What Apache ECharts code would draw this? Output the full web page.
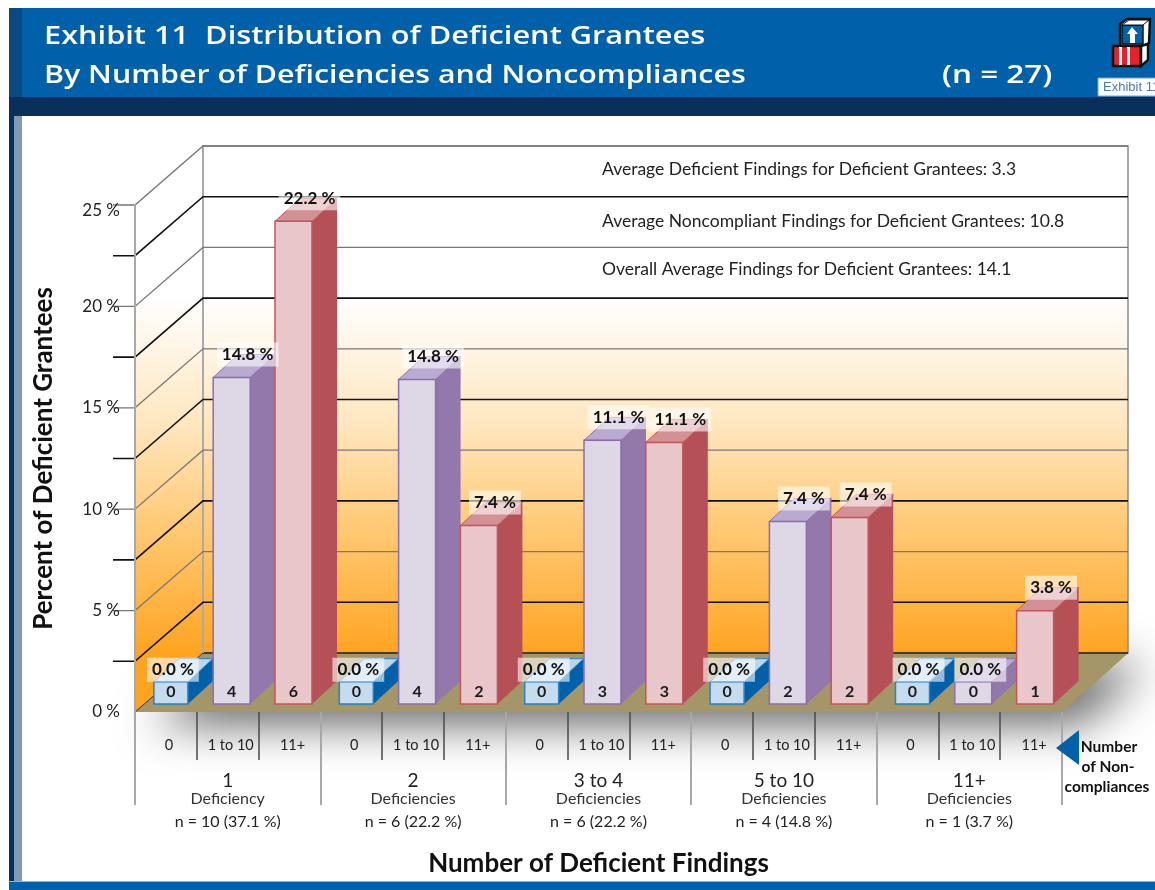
<!DOCTYPE html>
<html><head><meta charset="utf-8">
<style>html,body{margin:0;padding:0;background:#fff}#c{width:1155px;height:890px}</style>
<script src="https://cdn.jsdelivr.net/npm/echarts@6/dist/echarts.min.js"></script>
</head><body><div id="c"></div>
<script>
const noncomplianceTicks = ['0','1 to 10','11+','0','1 to 10','11+','0','1 to 10','11+','0','1 to 10','11+','0','1 to 10','11+'];
const findingGroups = ['1','2','3 to 4','5 to 10','11+'];
const groupWords = ['Deficiency','Deficiencies','Deficiencies','Deficiencies','Deficiencies'];
const groupCounts = ['n = 10 (37.1 %)','n = 6 (22.2 %)','n = 6 (22.2 %)','n = 4 (14.8 %)','n = 1 (3.7 %)'];
// bar heights as drawn, read against the axis
const barHeights = [1.1,16.1,23.8, 1.1,16,8.8, 1.1,13,12.9, 1.1,9,9.2, 1.1,1.1,4.6];
const percentLabels = ['0.0','14.8','22.2','0.0','14.8','7.4','0.0','11.1','11.1','0.0','7.4','7.4','0.0','0.0','3.8'];
const grantees = [0,4,6,0,4,2,0,3,3,0,2,2,0,0,1];
const gridLevels = [2.5,5,7.5,10,12.5,15,17.5,20,22.5,25];
const boldLevels = [2.5,7.5,12.5,17.5,22.5];
const wallNotes = ['Average Deficient Findings for Deficient Grantees: 3.3','Average Noncompliant Findings for Deficient Grantees: 10.8','Overall Average Findings for Deficient Grantees: 14.1'];
const titleLines = ['Exhibit 11  Distribution of Deficient Grantees','By Number of Deficiencies and Noncompliances'];

const DX = 68, DY = -59, BDX = 25, BDY = -23, LIFT = 8, WALL_TRIM = 2;
const F = 'Lato, "Open Sans", sans-serif';
const TF = '"Open Sans", Lato, sans-serif';
const palette = [
 {front:'#C6DCEE',stroke:'#2A80C4',side:'#0060AA',top:'#BBD7EE'},
 {front:'#DDD7E6',stroke:'#8A6DB0',side:'#9379AB',top:'#B9AACF'},
 {front:'#E9C6CA',stroke:'#C2555B',side:'#B55156',top:'#D39196'}];

const wallFill = new echarts.graphic.LinearGradient(0,297,0,653,[
 {offset:0,color:'#FFFFFF'},{offset:.35,color:'#FFE7C0'},{offset:.7,color:'#FFC468'},{offset:1,color:'#FFA421'}],true);

function poly(points,fill,stroke,lw,extra){
 return {type:'polygon',shape:{points},style:Object.assign({fill,stroke:stroke||null,lineWidth:lw||0},extra||{})};
}
function renderStage(p,api){
 const band = api.size([1,0])[0];
 const o = api.coord([0,0]), t = api.coord([0,25]);
 const l = o[0]-band/2, r = l+band*15, y0=o[1], y1=t[1], wr=r+DX-WALL_TRIM;
 return {type:'group',children:[
  poly([[l,y0],[l+DX,y0+DY],[wr,y0+DY],[r,y0]],'#A59668',null,0,{shadowColor:'rgba(0,0,0,0.62)',shadowBlur:46,shadowOffsetX:18,shadowOffsetY:12}),
  poly([[l,y0],[l+DX,y0+DY],[l+DX,y1+DY],[l,y1]],wallFill),
  poly([[l+DX,y0+DY],[wr,y0+DY],[wr,y1+DY],[l+DX,y1+DY]],wallFill,'#8a8a8a',1.5),
  poly([[l,y0],[l+DX,y0+DY],[wr,y0+DY],[r,y0]],'#A59668'),
  {type:'line',shape:{x1:l+DX,y1:y0+DY,x2:wr,y2:y0+DY},style:{stroke:'#222',lineWidth:1.5}},
  {type:'line',shape:{x1:l+DX,y1:y0+DY,x2:l+DX,y2:y1+DY},style:{stroke:'#aaa',lineWidth:2}},
  {type:'line',shape:{x1:l,y1:y0,x2:l+DX,y2:y0+DY},style:{stroke:'#333',lineWidth:1}}
 ]};
}
function renderGrid(p,api){
 const band = api.size([1,0])[0], v = api.value(0);
 const c = api.coord([0,v]), l = c[0]-band/2, r = l+band*15, y=c[1];
 const bold = boldLevels.includes(v);
 const st = {stroke:bold?'#111':'#777',lineWidth:bold?1.6:1.3,fill:null};
 return {type:'polyline',shape:{points:[[l-22,y],[l,y],[l+DX,y+DY],[r+DX-WALL_TRIM,y+DY]]},style:st};
}
function barPos(i,v,api){
 const c = api.coord([i,v]), b = api.coord([i,0]);
 const w = (i%3===0)?34:37, cx = c[0]+4 + (i%3===0?1:0);
 return {x:cx-w/2,w,top:c[1]-LIFT,base:b[1]-LIFT,cx};
}
function renderBar(p,api){
 const i = api.value(0), v = api.value(1), k = palette[i%3], b = barPos(i,v,api);
 const x=b.x,w=b.w,t=b.top,g=b.base;
 return {type:'group',children:[
  poly([[x+w,g],[x+w+BDX,g+BDY],[x+w+BDX,t+BDY],[x+w,t]],k.side),
  poly([[x,t],[x+BDX,t+BDY],[x+w+BDX,t+BDY],[x+w,t]],k.top,k.stroke,1),
  {type:'rect',shape:{x,y:t,width:w,height:g-t},style:{fill:k.front,stroke:k.stroke,lineWidth:1.5}},
  {type:'text',style:{text:String(grantees[i]),x:x+w/2,y:g-12,align:'center',verticalAlign:'middle',fill:'#1a1a1a',font:'bold 16px '+F}}
 ]};
}
function renderLabel(p,api){
 const i = api.value(0), v = api.value(1), b = barPos(i,v,api);
 const zero = v<2;
 const shift = zero ? (i===13?7:(i===12?6:2)) : 16;
 return {type:'text',style:{text:percentLabels[i]+' %',x:b.cx+shift,y:b.top+(zero?-12:-23),align:'center',verticalAlign:'middle',fill:'#111',font:'bold 17px '+F,backgroundColor:'rgba(255,255,255,0.58)',padding:[4,5,3,5]}};
}

const barData = barHeights.map((v,i)=>[i,v]);
const chart = echarts.init(document.getElementById('c'),null,{renderer:'canvas'});
const S = (t,x,y,font,fill,align,sx)=>({type:'text',x,y,z:30,scaleX:sx||1,style:{text:t,font,fill:fill||'#111',align:align||'left',verticalAlign:'middle'}});
const R = (x,y,w,h,fill)=>({type:'rect',shape:{x,y,width:w,height:h},z:10,style:{fill}});
const P = (pts,fill,stroke,lw)=>({type:'polygon',shape:{points:pts},z:21,style:{fill,stroke:stroke||null,lineWidth:lw||0}});

chart.setOption({
 animation:false,
 backgroundColor:'#fff',
 grid:{left:135,right:93,top:205,bottom:178,containLabel:false},
 xAxis:[
  {type:'category',gridIndex:0,data:noncomplianceTicks,position:'bottom',z:5,
   axisLine:{show:false},axisTick:{show:true,alignWithLabel:false,length:48,lineStyle:{color:'#4a4a4a',width:1.5}},
   axisLabel:{interval:0,margin:26,color:'#222',fontFamily:F,fontSize:14.5,padding:[0,0,0,6]}},
  {type:'category',gridIndex:0,data:findingGroups.map((g,i)=>g+'|'+groupWords[i]+'|'+groupCounts[i]),position:'bottom',z:6,
   axisLine:{show:false},axisTick:{show:true,length:93,lineStyle:{color:'#a8a8a8',width:2}},
   axisLabel:{interval:0,margin:58,fontFamily:F,
    formatter:s=>{const a=s.split('|');return '{g|'+a[0]+'}\n{w|'+a[1]+'}\n{n|'+a[2]+'}';},
    rich:{g:{fontSize:19,fontFamily:F,color:'#222',lineHeight:21,align:'center'},
          w:{fontSize:16,fontFamily:F,color:'#333',lineHeight:15,align:'center'},
          n:{fontSize:16,fontFamily:F,color:'#222',lineHeight:32,align:'center'}}},
   name:'Number of Deficient Findings',nameLocation:'middle',nameGap:139,
   nameTextStyle:{fontFamily:F,fontSize:26,fontWeight:'bold',color:'#111'}}
 ],
 yAxis:{type:'value',min:0,max:25,interval:5,z:5,
  axisLine:{show:true,lineStyle:{color:'#a8a8a8',width:2}},axisTick:{show:false},splitLine:{show:false},
  axisLabel:{margin:15,color:'#222',fontFamily:F,fontSize:17,
    formatter:v=>v===25?'{t|25 %}':v+' %',rich:{t:{fontSize:17,fontFamily:F,color:'#222',padding:[12,0,0,0]}}},
  name:'Percent of Deficient Grantees',nameLocation:'middle',nameGap:78,nameRotate:90,
  nameTextStyle:{fontFamily:F,fontSize:26,fontWeight:'bold',color:'#111'}},
 series:[
  {type:'custom',name:'stage',z:1,silent:true,xAxisIndex:0,renderItem:renderStage,data:[[0]],encode:{x:[],y:[]}},
  {type:'custom',name:'levels',z:2,silent:true,xAxisIndex:0,renderItem:renderGrid,data:gridLevels.map(v=>[v]),encode:{x:[],y:[]}},
  {type:'custom',name:'bars',z:3,xAxisIndex:0,renderItem:renderBar,data:barData,encode:{x:0,y:1}},
  {type:'custom',name:'labels',z:4,silent:true,xAxisIndex:0,renderItem:renderLabel,data:barData,encode:{x:0,y:1}}
 ],
 graphic:[
  R(9,8,1146,89,'#0060AA'),R(9,8,13,89,'#0A4A84'),R(9,97,1146,19,'#08305A'),
  R(9,116,5,766,'#08305A'),R(14,116,8,766,'#7F9AB5'),R(9,882,1146,8,'#0060AA'),R(9,881,1146,1,'#8FB6D6'),
  S(titleLines[0],44,37,'600 26px '+TF,'#fff','left',1.182),
  S(titleLines[1],44,76,'600 26px '+TF,'#fff','left',1.167),
  S('(n = 27)',942,76,'600 26px '+TF,'#fff','left',1.21),
  S(wallNotes[0],602,169,'17.5px '+F,'#222'),
  S(wallNotes[1],602,221,'17.5px '+F,'#222'),
  S(wallNotes[2],602,269,'17.5px '+F,'#222'),
  // logo
  P([[1120,24],[1127,19],[1150,19],[1149,43],[1143,46],[1120,46]],'#fff','#111',2.5),
  P([[1122,25],[1143,25],[1143,44],[1122,44]],'#0060AA','#111',1.5),
  P([[1122,25],[1129,20],[1149,20],[1143,25]],'#fff','#111',1),
  P([[1132,27],[1138,34],[1135,34],[1135,43],[1130,43],[1130,34],[1127,34]],'#fff'),
  P([[1113,46],[1141,46],[1141,66],[1113,66]],'#E8202A','#111',2.5),
  P([[1119,47],[1122,47],[1122,65],[1119,65]],'#fff'),
  P([[1127,47],[1130,47],[1130,65],[1127,65]],'#fff'),
  P([[1141,46],[1148,44],[1148,60],[1141,66]],'#fff','#111',2.5),
  {type:'rect',shape:{x:1098,y:78,width:60,height:18},z:21,style:{fill:'#fff',stroke:'#7f9fc6',lineWidth:1}},
  S('Exhibit 11',1103,87.5,'13px "Liberation Sans Narrow","Liberation Sans",sans-serif','#4B78B8'),
  // non-compliance pointer
  P([[1056,748],[1079,730],[1079,765]],'#0060AA'),
  S('Number',1109,747,'bold 15.5px '+F,'#111','center'),
  S('of Non-',1108,767,'bold 15.5px '+F,'#111','center'),
  S('compliances',1107,787,'bold 15.5px '+F,'#111','center')
 ]
});
</script></body></html>
